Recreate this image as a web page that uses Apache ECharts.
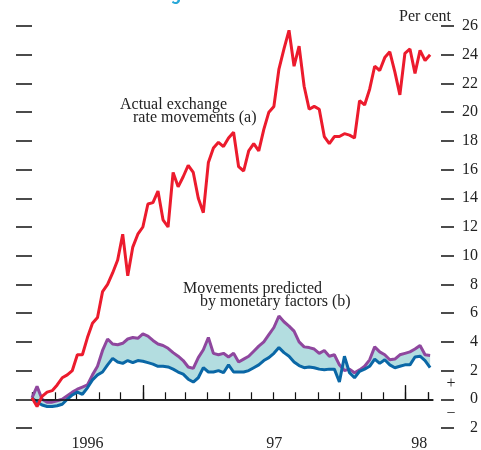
<!DOCTYPE html>
<html>
<head>
<meta charset="utf-8">
<script src="https://cdn.jsdelivr.net/npm/echarts@6/dist/echarts.min.js"></script>
<style>
  html, body { margin: 0; padding: 0; background: #fff; }
  #main { width: 481px; height: 450px; }
</style>
</head>
<body>
<div id="main"></div>
<script>
// weekly observations, first one on 31 July 1996
var startDate = Date.UTC(1996, 6, 31)
var stepDays = 7

// actual exchange rate movements (a), per cent
var actual = [0.1, -0.5, 0.2, 0.5, 0.6, 1.0, 1.5, 1.7, 2.0, 3.1,
  3.1, 4.3, 5.3, 5.7, 7.5, 8.0, 8.8, 9.7, 11.5, 8.6,
  10.6, 11.5, 12.0, 13.6, 13.7, 14.5, 12.5, 12.0, 15.8, 14.8,
  15.5, 16.3, 15.8, 14.0, 13.0, 16.5, 17.5, 17.9, 17.6, 18.2,
  18.6, 16.2, 15.9, 17.3, 17.8, 17.3, 18.8, 20.0, 20.4, 23.0,
  24.4, 25.7, 23.2, 24.6, 21.8, 20.2, 20.4, 20.2, 18.3, 17.8,
  18.3, 18.3, 18.5, 18.4, 18.2, 20.8, 20.5, 21.6, 23.2, 22.9,
  23.8, 24.2, 22.8, 21.2, 24.1, 24.4, 22.7, 24.3, 23.6, 24.0]

// movements predicted by monetary factors (b): upper estimate (purple)
var predictedHigh = [0.1, 0.9, 0.0, -0.2, -0.2, -0.1, 0.0, 0.25, 0.5, 0.7,
  0.85, 1.0, 1.7, 2.3, 3.4, 4.2, 3.85, 3.8, 3.9, 4.2,
  4.3, 4.25, 4.55, 4.4, 4.1, 3.85, 3.75, 3.55, 3.25, 3.0,
  2.7, 2.25, 2.15, 2.9, 3.45, 4.3, 3.2, 3.1, 3.2, 2.95,
  3.2, 2.6, 2.8, 3.0, 3.35, 3.7, 4.0, 4.5, 5.0, 5.8,
  5.4, 5.1, 4.75, 4.0, 3.65, 3.6, 3.5, 3.2, 3.4, 3.0,
  3.1, 2.4, 2.0, 2.1, 1.85, 2.05, 2.3, 2.75, 3.65, 3.3,
  3.1, 2.75, 2.8, 3.1, 3.2, 3.3, 3.5, 3.75, 3.1, 3.05]

// lower estimate (blue)
var predictedLow = [0.1, -0.2, -0.4, -0.5, -0.5, -0.45, -0.35, 0.0, 0.3, 0.5,
  0.35, 0.8, 1.35, 1.7, 1.9, 2.4, 2.85, 2.6, 2.5, 2.7,
  2.55, 2.7, 2.65, 2.55, 2.45, 2.3, 2.3, 2.25, 2.1, 1.9,
  1.75, 1.4, 1.2, 1.5, 2.2, 1.9, 1.9, 2.0, 1.85, 2.4,
  1.9, 1.9, 1.9, 2.0, 2.2, 2.4, 2.7, 2.9, 3.2, 3.6,
  3.25, 3.0, 2.6, 2.35, 2.2, 2.25, 2.2, 2.1, 2.05, 2.1,
  2.1, 1.2, 3.0, 1.85, 1.5, 1.95, 2.1, 2.3, 2.8, 2.5,
  2.75, 2.4, 2.2, 2.3, 2.4, 2.4, 2.95, 3.0, 2.7, 2.2]

var yTicks = [-2, 0, 2, 4, 6, 8, 10, 12, 14, 16, 18, 20, 22, 24, 26]
var yearLabels = ['1996', '97', '98']

var DAY = 86400000
var axisMin = startDate
var axisMax = Date.UTC(1998, 1, 8)

var dates = actual.map(function (v, i) { return startDate + i * stepDays * DAY })
function pairs(arr) { return arr.map(function (v, i) { return [dates[i], v] }) }
var bandDiff = predictedHigh.map(function (v, i) { return [dates[i], +(v - predictedLow[i]).toFixed(2)] })

// month starts for the small ticks
var monthTicks = []
for (var y = 1996, m = 7; Date.UTC(y, m, 1) <= axisMax; m++) {
  if (m > 11) { m = 0; y++ }
  monthTicks.push(Date.UTC(y, m, 1))
}
var yearTicks = [Date.UTC(1997, 0, 1), Date.UTC(1998, 0, 1)]

var serif = '"Liberation Serif", "Times New Roman", serif'
var RED = '#ec1b2d'
var PURPLE = '#8f479e'
var BLUE = '#0a67a6'
var FILL = '#b3dde0'

var myChart = echarts.init(document.getElementById('main'))

var option = {
  animation: false,
  grid: { left: 32, right: 45, top: 26, bottom: 22 },
  xAxis: [
    {
      type: 'time', min: axisMin, max: axisMax,
      axisLine: { show: true, lineStyle: { color: '#111', width: 1.5 } },
      axisTick: { show: true, inside: true, length: 7, customValues: monthTicks, lineStyle: { color: '#111', width: 1.2 } },
      axisLabel: { show: false },
      splitLine: { show: false }
    },
    {
      type: 'time', min: axisMin, max: axisMax, position: 'bottom',
      axisLine: { show: false },
      axisTick: { show: true, inside: true, length: 14, customValues: yearTicks, lineStyle: { color: '#111', width: 1.2 } },
      axisLabel: { show: false },
      splitLine: { show: false }
    }
  ],
  yAxis: [
    {
      type: 'value', position: 'right', offset: 8,
      min: -2, max: 26, interval: 2,
      axisLine: { show: false },
      axisTick: { show: true, length: 13, customValues: yTicks, lineStyle: { color: '#111', width: 1.5 } },
      axisLabel: {
        align: 'right', margin: 37, fontFamily: serif, fontSize: 16, color: '#222',
        formatter: function (v) { return String(Math.abs(v)) }
      },
      splitLine: { show: false }
    },
    {
      type: 'value', position: 'left', offset: 0,
      min: -2, max: 26, interval: 2,
      axisLine: { show: false },
      axisTick: { show: true, length: 16, lineStyle: { color: '#111', width: 1.5 } },
      axisLabel: { show: false },
      splitLine: { show: false }
    }
  ],
  series: [
    {
      name: 'band base', type: 'line', stack: 'band', stackStrategy: 'all',
      data: pairs(predictedLow), showSymbol: false, silent: true,
      lineStyle: { opacity: 0 }
    },
    {
      name: 'band', type: 'line', stack: 'band', stackStrategy: 'all',
      data: bandDiff, showSymbol: false, silent: true,
      lineStyle: { opacity: 0 },
      areaStyle: { color: FILL, opacity: 1 }
    },
    {
      name: 'predicted high', type: 'line', data: pairs(predictedHigh),
      showSymbol: false, lineStyle: { color: PURPLE, width: 3 }
    },
    {
      name: 'predicted low', type: 'line', data: pairs(predictedLow),
      showSymbol: false, lineStyle: { color: BLUE, width: 3 }
    },
    {
      name: 'actual', type: 'line', data: pairs(actual), z: 5,
      showSymbol: false, lineStyle: { color: RED, width: 3 },
      markLine: {
        silent: true, symbol: 'none', label: { show: false },
        lineStyle: { color: '#111', type: 'solid', width: 1.5 },
        data: [{ yAxis: 0 }]
      }
    }
  ]
}
myChart.setOption(option)

// year labels centred in the span of each year that is shown
var spans = [[axisMin, yearTicks[0]], [yearTicks[0], yearTicks[1]], [yearTicks[1], axisMax]]
var txt = { fontFamily: serif, fontSize: 16, fill: '#222' }
var graphics = spans.map(function (s, i) {
  var x = myChart.convertToPixel({ xAxisIndex: 0 }, (s[0] + s[1]) / 2)
  return { type: 'text', x: x, y: 444, style: Object.assign({ text: yearLabels[i], textAlign: 'center', textVerticalAlign: 'middle' }, txt) }
})
graphics.push(
  { type: 'text', x: 451, y: 17, style: Object.assign({ text: 'Per cent', textAlign: 'right', textVerticalAlign: 'middle' }, txt) },
  { type: 'text', x: 451, y: 384, style: Object.assign({ text: '+', textAlign: 'center', textVerticalAlign: 'middle' }, txt) },
  { type: 'text', x: 451, y: 414, style: Object.assign({ text: '\u2212', textAlign: 'center', textVerticalAlign: 'middle' }, txt) },
  { type: 'text', x: 120, y: 105, style: Object.assign({ text: 'Actual exchange', textVerticalAlign: 'middle' }, txt) },
  { type: 'text', x: 133, y: 118, style: Object.assign({ text: 'rate movements (a)', textVerticalAlign: 'middle' }, txt) },
  { type: 'text', x: 183, y: 289, style: Object.assign({ text: 'Movements predicted', textVerticalAlign: 'middle' }, txt) },
  { type: 'text', x: 200, y: 302, style: Object.assign({ text: 'by monetary factors (b)', textVerticalAlign: 'middle' }, txt) },
  { type: 'text', x: 181, y: 4, style: { text: 'Sterling', textAlign: 'right', textVerticalAlign: 'bottom', fontFamily: 'Roboto, sans-serif', fontWeight: 'bold', fontSize: 18, fill: '#29a8d8' } }
)
myChart.setOption({ graphic: graphics })

window.addEventListener('resize', function () {
  myChart.resize()
})
</script>
</body>
</html>
